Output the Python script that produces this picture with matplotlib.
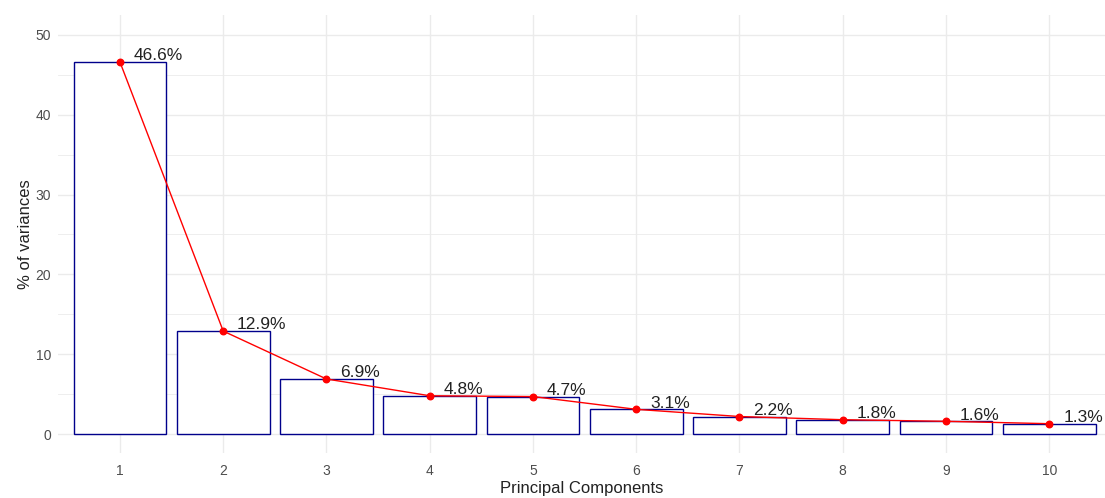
import matplotlib.pyplot as plt

plt.rcParams['font.family'] = ['Liberation Sans', 'DejaVu Sans']

# explained variance per principal component (%)
components = [1, 2, 3, 4, 5, 6, 7, 8, 9, 10]
variances = [46.6, 12.9, 6.9, 4.8, 4.7, 3.1, 2.2, 1.8, 1.6, 1.3]

fig = plt.figure(figsize=(11.05, 4.98), dpi=100)
ax = fig.add_axes([0.0525, 0.091, 0.9475, 0.879])

ax.bar(components, variances, width=0.9, facecolor='white',
       edgecolor='#00008B', linewidth=1.0, zorder=2)
ax.plot(components, variances, color='red', linewidth=1.0, zorder=3)
ax.scatter(components, variances, color='red', s=22, zorder=4)

for x, v in zip(components, variances):
    ax.annotate(f'{v}%', (x, v), xytext=(10, -1), textcoords='offset points',
                ha='left', va='bottom', fontsize=12.5, color='#222222', zorder=5)

ax.set_xlim(0.4, 10.54)
ax.set_ylim(-2.33, 52.5)
ax.set_xticks(components)
ax.set_yticks([0, 10, 20, 30, 40, 50])
ax.set_yticks([5, 15, 25, 35, 45], minor=True)

ax.grid(True, which='major', color='#EBEBEB', linewidth=1.0, zorder=0)
ax.grid(True, which='minor', axis='y', color='#EBEBEB', linewidth=0.6, zorder=0)
ax.set_axisbelow(True)
for s in ax.spines.values():
    s.set_visible(False)
ax.tick_params(which='both', length=0, labelsize=10, labelcolor='#4D4D4D')
ax.tick_params(axis='x', pad=8)
ax.tick_params(axis='y', pad=5)

ax.set_xlabel('Principal Components', fontsize=12, color='#222222', labelpad=2)
ax.set_ylabel('% of variances', fontsize=12, color='#222222', labelpad=2)

fig.savefig('out.png', dpi=100)
